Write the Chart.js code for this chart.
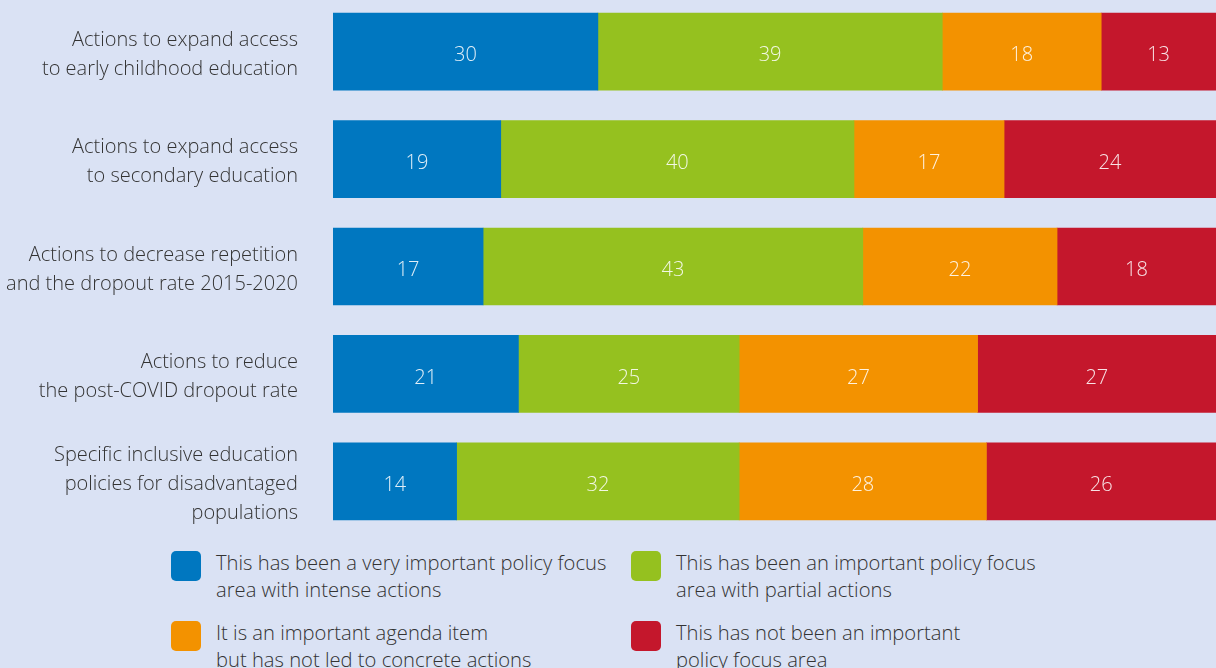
<!DOCTYPE html>
<html>
<head>
<meta charset="utf-8">
<script src="https://cdn.jsdelivr.net/npm/chart.js@4"></script>
<style>
  html, body { margin: 0; padding: 0; background: #dae2f4; overflow: hidden; }
  body { width: 1216px; height: 668px; position: relative; font-family: "Open Sans", sans-serif; }
  #wrap { position: absolute; left: 0; top: -2px; width: 1216px; height: 537px; }
  .leg { position: absolute; display: flex; align-items: flex-start; color: #333; font-size: 20.2px; font-weight: 300; line-height: 27px; }
  .leg i { display: block; width: 30px; height: 30px; border-radius: 5px; margin-right: 15px; flex: none; }
  .leg span { margin-top: -2px; }
</style>
</head>
<body>
<div id="wrap"><canvas id="mygraph"></canvas></div>
<div id="legend"></div>
<script>
let categories = [
  ['Actions to expand access', 'to early childhood education'],
  ['Actions to expand access', 'to secondary education'],
  ['Actions to decrease repetition', 'and the dropout rate 2015-2020'],
  ['Actions to reduce', 'the post-COVID dropout rate'],
  ['Specific inclusive education', 'policies for disadvantaged', 'populations']
]
let veryImportant = [30, 19, 17, 21, 14]
let important = [39, 40, 43, 25, 32]
let agendaItem = [18, 17, 22, 27, 28]
let notImportant = [13, 24, 18, 27, 26]

let seriesNames = [
  ['This has been a very important policy focus', 'area with intense actions'],
  ['This has been an important policy focus', 'area with partial actions'],
  ['It is an important agenda item', 'but has not led to concrete actions'],
  ['This has not been an important', 'policy focus area']
]
let colors = ['#0077c0', '#95c11f', '#f39200', '#c4172c']

// labels in the middle of each segment
let segmentLabels = {
  id: 'segmentLabels',
  afterDatasetsDraw(chart) {
    let ctx = chart.ctx
    ctx.save()
    ctx.font = '300 20px "Open Sans"'
    ctx.fillStyle = 'rgba(255,255,255,0.88)'
    ctx.textAlign = 'center'
    ctx.textBaseline = 'middle'
    chart.data.datasets.forEach((ds, i) => {
      chart.getDatasetMeta(i).data.forEach((bar, j) => {
        let x = (bar.x + bar.base) / 2
        ctx.fillText(ds.data[j], x, bar.y + 4)
      })
    })
    ctx.restore()
  }
}

let series = [veryImportant, important, agendaItem, notImportant]

const ctx = document.getElementById('mygraph').getContext('2d')
new Chart(ctx, {
  type: 'bar',
  data: {
    labels: categories,
    datasets: series.map((d, i) => ({
      label: seriesNames[i].join(' '),
      data: d,
      backgroundColor: colors[i],
      borderWidth: 0,
      barThickness: 77
    }))
  },
  options: {
    indexAxis: 'y',
    responsive: true,
    maintainAspectRatio: false,
    animation: false,
    layout: { padding: 0 },
    plugins: {
      legend: { display: false },
      tooltip: { enabled: false }
    },
    scales: {
      x: { stacked: true, min: 0, max: 100, display: false },
      y: {
        stacked: true,
        grid: { display: false, drawTicks: false },
        border: { display: false },
        ticks: {
          padding: 35,
          labelOffset: 3,
          color: '#333333',
          font: { family: 'Open Sans', size: 20, weight: '300', lineHeight: 1.45 }
        },
        afterFit(scale) {
          scale.width = 333
          scale.paddingTop = 0
          scale.paddingBottom = 0
        }
      }
    }
  },
  plugins: [segmentLabels]
})

// legend in two columns
let legendPos = [[171, 551], [631, 551], [171, 621], [631, 621]]
let legend = document.getElementById('legend')
seriesNames.forEach((name, i) => {
  let div = document.createElement('div')
  div.className = 'leg'
  div.style.left = legendPos[i][0] + 'px'
  div.style.top = legendPos[i][1] + 'px'
  div.innerHTML = '<i style="background:' + colors[i] + '"></i><span>' + name.join('<br>') + '</span>'
  legend.appendChild(div)
})
</script>
</body>
</html>
